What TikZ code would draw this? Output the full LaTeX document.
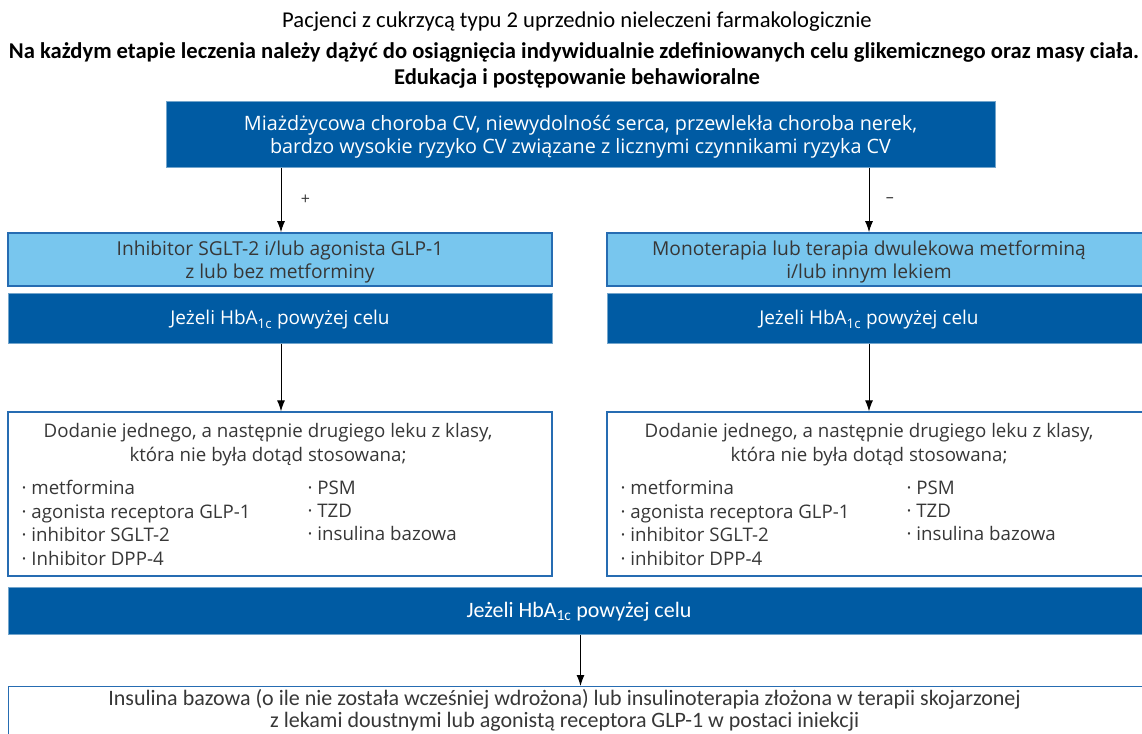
\documentclass[tikz,border=0pt]{standalone}
\usepackage{fontspec}
\setmainfont{Open Sans}
\newfontfamily\calfont{Carlito}
\usetikzlibrary{arrows.meta, positioning, calc}
\definecolor{ciemny}{RGB}{0,91,163}
\definecolor{jasny}{RGB}{120,198,238}
\definecolor{ramka}{RGB}{38,108,178}
\definecolor{tekst}{RGB}{55,55,55}
\newcommand{\hba}{HbA\textsubscript{1c}}
\newcommand{\pkt}{\textperiodcentered\ }

\begin{document}
\begin{tikzpicture}[
    x=1pt, y=-1pt,
    tytul/.style={font=\calfont\fontsize{22.6}{26}\selectfont, inner sep=0pt},
    ciemnybox/.style={rectangle, fill=ciemny, draw=ciemny!55, line width=1pt, inner sep=0pt,
        text=white, align=center, font=\fontsize{19}{22.5}\selectfont},
    jasnybox/.style={rectangle, fill=jasny, draw=ramka, line width=1.6pt, inner sep=0pt,
        text=tekst, align=center, font=\fontsize{19.2}{23}\selectfont},
    bialybox/.style={rectangle, fill=white, draw=ramka, line width=1.3pt, inner sep=0pt},
    lista/.style={inner sep=0pt, text=tekst, align=left, font=\fontsize{18.7}{23.4}\selectfont},
    naglowek/.style={lista, align=center, anchor=north, font=\fontsize{18.7}{24}\selectfont},
    arrow/.style={-{Latex[length=11pt, width=8pt]}, line width=1pt}
]
\useasboundingbox (0,0) rectangle (1142,733);

% naglowek
\node[tytul] (t1) at (577,22) {Pacjenci z cukrzycą typu 2 uprzednio nieleczeni farmakologicznie};
\node[tytul, font=\calfont\bfseries\fontsize{22.6}{26}\selectfont] (t2) at (574,52) {Na każdym etapie leczenia należy dążyć do osiągnięcia indywidualnie zdefiniowanych celu glikemicznego oraz masy ciała.};
\node[tytul, font=\calfont\bfseries\fontsize{22.6}{26}\selectfont] (t3) at (577,78) {Edukacja i postępowanie behawioralne};

% pytanie o choroby CV
\node[ciemnybox, minimum width=829pt, minimum height=65pt, text depth=0pt, font=\fontsize{19.8}{22.5}\selectfont] (cv) at (580.5,134.5)
    {Miażdżycowa choroba CV, niewydolność serca, przewlekła choroba nerek,\\bardzo wysokie ryzyko CV związane z licznymi czynnikami ryzyka CV};

% lewa galaz
\node[jasnybox, minimum width=544pt, minimum height=53pt, text depth=0pt] (lA) at (280,259.5)
    {Inhibitor SGLT-2 i/lub agonista GLP-1\\z lub bez metforminy};
\node[ciemnybox, minimum width=544pt, minimum height=50pt] (lB) at (280,318) {};
\node[ciemnybox, draw=none, fill=none] (lBt) at ($(lB.center)+(0,2)$) {Jeżeli \hba{} powyżej celu};
\node[bialybox, minimum width=544pt, minimum height=164pt] (lC) at (280,494) {};

% prawa galaz (tekst przesuniety w lewo)
\node[jasnybox, minimum width=544pt, minimum height=53pt] (rA) at (879,259.5) {};
\node[jasnybox, draw=none, fill=none, text depth=0pt] (rAt) at ($(rA.center)+(-10,0)$)
    {Monoterapia lub terapia dwulekowa metforminą\\i/lub innym lekiem};
\node[ciemnybox, minimum width=544pt, minimum height=50pt] (rB) at (879,318) {};
\node[ciemnybox, draw=none, fill=none] (rBt) at ($(rB.center)+(-10,2)$) {Jeżeli \hba{} powyżej celu};
\node[bialybox, minimum width=544pt, minimum height=164pt] (rC) at (879,494) {};

% tresc list
\node[naglowek] (lCh) at ($(lC.north)+(-12,12)$)
    {Dodanie jednego, a następnie drugiego leku z klasy,\\która nie była dotąd stosowana;};
\node[lista, anchor=north west] (lC1) at ($(lC.north west)+(14,69)$)
    {\pkt metformina\\\pkt agonista receptora GLP-1\\\pkt inhibitor SGLT-2\\\pkt Inhibitor DPP-4};
\node[lista, anchor=north west] (lC2) at ($(lC.north west)+(300,69)$)
    {\pkt PSM\\\pkt TZD\\\pkt insulina bazowa};
\node[naglowek] (rCh) at ($(rC.north)+(-10,12)$)
    {Dodanie jednego, a następnie drugiego leku z klasy,\\która nie była dotąd stosowana;};
\node[lista, anchor=north west] (rC1) at ($(rC.north west)+(14,69)$)
    {\pkt metformina\\\pkt agonista receptora GLP-1\\\pkt inhibitor SGLT-2\\\pkt inhibitor DPP-4};
\node[lista, anchor=north west] (rC2) at ($(rC.north west)+(300,69)$)
    {\pkt PSM\\\pkt TZD\\\pkt insulina bazowa};

% wspolny dol
\node[ciemnybox, minimum width=1142pt, minimum height=47pt] (bar) at (579,610.5) {};
\node[ciemnybox, draw=none, fill=none, font=\calfont\fontsize{22}{24}\selectfont] (barT) at ($(bar.center)+(0,1.5)$)
    {Jeżeli \hba{} powyżej celu};
\node[bialybox, minimum width=1142pt, minimum height=80pt, anchor=north west] (ins) at (8,686) {};
\node[lista, align=center, anchor=north, font=\calfont\fontsize{22}{22}\selectfont] (insT) at ($(ins.north)+(-15,3)$)
    {Insulina bazowa (o ile nie została wcześniej wdrożona) lub insulinoterapia złożona w terapii skojarzonej\\z lekami doustnymi lub agonistą receptora GLP-1 w postaci iniekcji};

% strzalki
\coordinate (lx) at (281,0);
\coordinate (rx) at (869,0);
\draw[arrow] (cv.south -| lx) -- (lA.north -| lx) node[midway, right=16pt, font=\fontsize{16}{16}\selectfont, text=tekst] {+};
\draw[arrow] (cv.south -| rx) -- (rA.north -| rx) node[midway, right=13pt, font=\fontsize{16}{16}\selectfont, text=tekst] {–};
\draw[arrow] (lB.south -| lx) -- (lC.north -| lx);
\draw[arrow] (rB.south -| rx) -- (rC.north -| rx);
\draw[arrow] (bar.south -| cv.south) -- (ins.north -| cv.south);
\end{tikzpicture}
\end{document}
